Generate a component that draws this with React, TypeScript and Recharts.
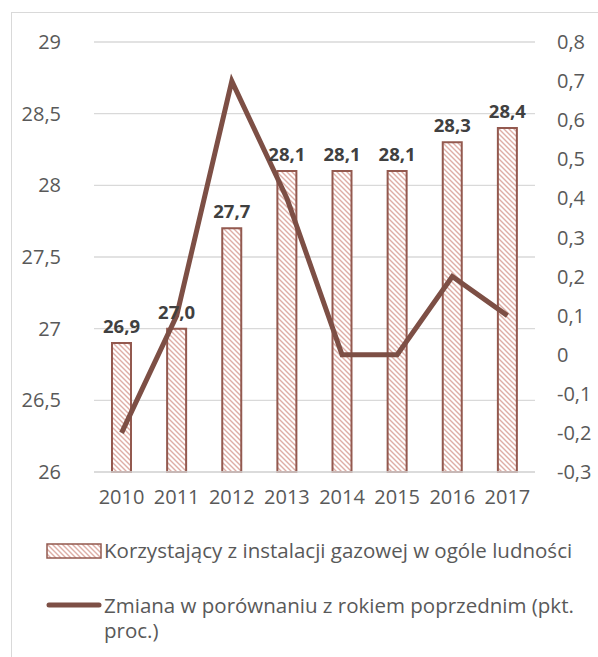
import React from 'react';
import { ComposedChart, Bar, Line, XAxis, YAxis, CartesianGrid, LabelList, Legend } from 'recharts';

const years = ['2010', '2011', '2012', '2013', '2014', '2015', '2016', '2017'];
const shareValues = [26.9, 27.0, 27.7, 28.1, 28.1, 28.1, 28.3, 28.4];
const changeValues = [-0.2, 0.1, 0.7, 0.4, 0, 0, 0.2, 0.1];
const leftTicks = [26, 26.5, 27, 27.5, 28, 28.5, 29];
const rightTicks = [-0.3, -0.2, -0.1, 0, 0.1, 0.2, 0.3, 0.4, 0.5, 0.6, 0.7, 0.8];
const barName = 'Korzystający z instalacji gazowej w ogóle ludności';
const lineName = 'Zmiana w porównaniu z rokiem poprzednim (pkt. proc.)';

const data = years.map((year, i) => ({
  year,
  share: shareValues[i],
  change: changeValues[i],
}));

const FONT = '"Open Sans", sans-serif';
const LINE_COLOR = '#7d4f45';
const BAR_STROKE = '#93594f';
const HATCH = '#deaea6';

// Excel style number: comma decimal, no ",0" on whole ticks
const fmtTick = (v: number) => {
  const r = Math.round(v * 10) / 10;
  if (Number.isInteger(r)) return String(r);
  return r.toFixed(1).replace('.', ',');
};
const fmtLabel = (v: number) => v.toFixed(1).replace('.', ',');

const HatchIcon = () => (
  <svg width={56} height={16} style={{ flexShrink: 0 }}>
    <rect x={1} y={1} width={54} height={14} fill="url(#hatch)" stroke={BAR_STROKE} strokeWidth={1.5} />
  </svg>
);

const LegendContent = () => (
  <div style={{ fontFamily: FONT, fontSize: 20.5, color: '#595959', lineHeight: '25px' }}>
    <div style={{ display: 'flex', alignItems: 'center', marginLeft: 46 }}>
      <HatchIcon />
      <span style={{ marginLeft: 2, whiteSpace: 'nowrap' }}>{barName}</span>
    </div>
    <div style={{ display: 'flex', alignItems: 'flex-start', marginLeft: 46, marginTop: 30 }}>
      <svg width={56} height={25} style={{ flexShrink: 0 }}>
        <line x1={3} y1={12} x2={53} y2={12} stroke={LINE_COLOR} strokeWidth={5} strokeLinecap="round" />
      </svg>
      <span style={{ marginLeft: 2, width: 485 }}>{lineName}</span>
    </div>
  </div>
);

export default function App() {
  return (
    <div style={{ position: 'absolute', left: 0, top: 0, width: 598, height: 657, background: '#fff', overflow: 'hidden' }}>
      <div style={{ position: 'absolute', left: 11, top: 12, width: 700, height: 700, border: '1px solid #d9d9d9' }} />
      <ComposedChart
        width={598}
        height={657}
        data={data}
        margin={{ top: 42, right: 0, bottom: 155, left: 0 }}
        barCategoryGap={0}
        style={{ position: 'absolute', left: 0, top: 0 }}
      >
        <defs>
          <pattern id="hatch" width={5} height={5} patternUnits="userSpaceOnUse">
            <rect width={5} height={5} fill="#fff" />
            <path d="M-1,-1 L6,6 M-1,4 L1,6 M4,-1 L6,1" stroke={HATCH} strokeWidth={1.4} />
          </pattern>
        </defs>
        <CartesianGrid yAxisId="left" vertical={false} stroke="#d9d9d9" strokeWidth={1.3} />
        <XAxis
          dataKey="year"
          axisLine={{ stroke: '#d9d9d9', strokeWidth: 1.3 }}
          tickLine={false}
          tickMargin={12}
          height={30}
          tick={{ fontFamily: FONT, fontSize: 20, fill: '#595959' }}
        />
        <YAxis
          yAxisId="left"
          orientation="left"
          width={94}
          domain={[26, 29]}
          ticks={leftTicks}
          tickFormatter={fmtTick}
          axisLine={false}
          tickLine={false}
          tickMargin={27}
          tick={{ fontFamily: FONT, fontSize: 20, fill: '#595959' }}
        />
        <YAxis
          yAxisId="right"
          orientation="right"
          width={63}
          domain={[-0.3, 0.8]}
          ticks={rightTicks}
          tickFormatter={fmtTick}
          axisLine={false}
          tickLine={false}
          tickMargin={16}
          tick={{ fontFamily: FONT, fontSize: 20, fill: '#595959', textAnchor: 'start' }}
        />
        <Bar
          yAxisId="left"
          dataKey="share"
          name={barName}
          barSize={19}
          fill="url(#hatch)"
          stroke={BAR_STROKE}
          strokeWidth={2}
          isAnimationActive={false}
        >
          <LabelList
            dataKey="share"
            position="top"
            offset={10}
            formatter={(v: number) => fmtLabel(v)}
            style={{ fontFamily: FONT, fontSize: 18.5, fontWeight: 700, fill: '#404040' }}
          />
        </Bar>
        <Line
          yAxisId="right"
          dataKey="change"
          name={lineName}
          type="linear"
          stroke={LINE_COLOR}
          strokeWidth={5}
          dot={false}
          activeDot={false}
          isAnimationActive={false}
        />
        <Legend
          layout="horizontal"
          verticalAlign="middle"
          align="center"
          content={<LegendContent />}
          wrapperStyle={{ position: 'absolute', top: 538, left: 0, width: 598 }}
        />
      </ComposedChart>
    </div>
  );
}
